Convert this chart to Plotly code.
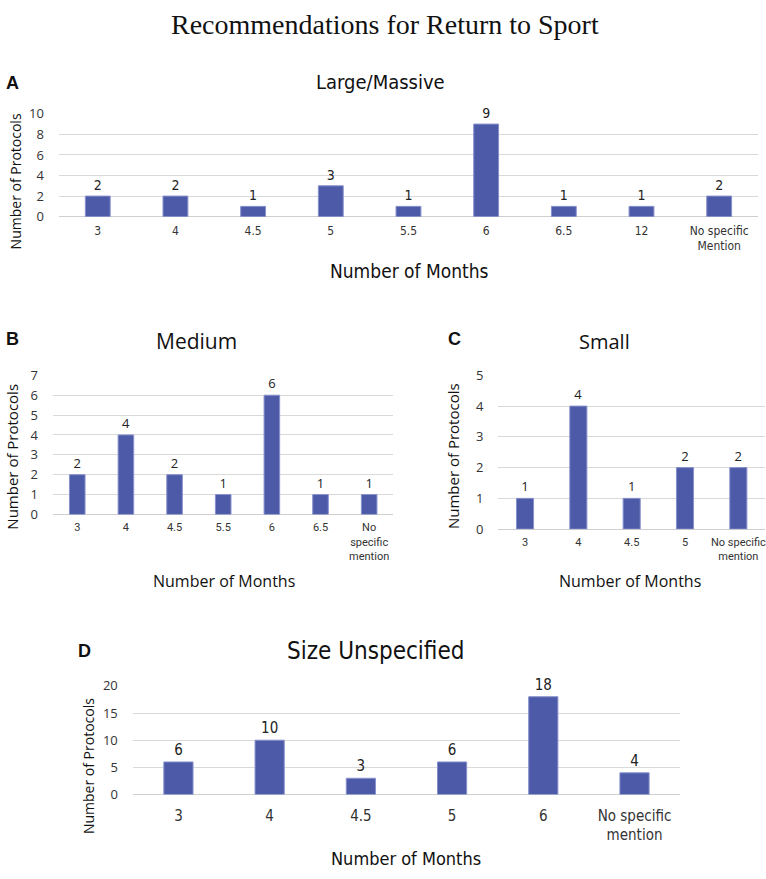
import plotly.graph_objects as go

# ---- data ----
cats_a = ["3", "4", "4.5", "5", "5.5", "6", "6.5", "12", "No specific<br>Mention"]
vals_a = [2, 2, 1, 3, 1, 9, 1, 1, 2]

cats_b = ["3", "4", "4.5", "5.5", "6", "6.5", "No<br>specific<br>mention"]
vals_b = [2, 4, 2, 1, 6, 1, 1]

cats_c = ["3", "4", "4.5", "5", "No specific<br>mention"]
vals_c = [1, 4, 1, 2, 2]

cats_d = ["3", "4", "4.5", "5", "6", "No specific<br>mention"]
vals_d = [6, 10, 3, 6, 18, 4]

W, H = 766, 879
BAR = "#4D5AA8"
GRID = "#D9D9D9"
NARROW = "Liberation Sans Narrow, Arial Narrow, DejaVu Sans Condensed, sans-serif"
SEG = "Open Sans, sans-serif"
ROB = "Roboto, sans-serif"
BOLD = "Liberation Sans, Arial, sans-serif"


def px(x):
    return x / W


def py(y):
    return 1 - y / H


fig = go.Figure()

panels = [
    # cats, vals, axis id, x px, y px, ymax, dtick, xtick font, size, ytick font, size, label font, size
    (cats_a, vals_a, "", (59, 759), (107, 212), 10, 2, NARROW, 12, SEG, 13, NARROW, 14),
    (cats_b, vals_b, "2", (53, 394), (374, 516), 7, 1, ROB, 11, SEG, 13, SEG, 13),
    (cats_c, vals_c, "3", (499, 766), (374, 531), 5, 1, ROB, 11, SEG, 13, SEG, 13),
    (cats_d, vals_d, "4", (133, 681), (691, 802), 20, 5, NARROW, 15, SEG, 13, NARROW, 15),
]

for cats, vals, ax, (x0, x1), (y0, y1), ymax, dt, xf, xs, yf, ys, lf, ls in panels:
    fig.add_trace(go.Bar(
        x=cats, y=vals, xaxis="x" + ax, yaxis="y" + ax,
        marker=dict(color=BAR, line=dict(color="#8791CC", width=1)),
        text=[str(v) for v in vals], textposition="outside",
        textfont=dict(family=lf, size=ls, color="#222222"),
        cliponaxis=False, showlegend=False, hoverinfo="x+y",
    ))
    fig.layout["xaxis" + ax] = dict(
        domain=[px(x0), px(x1)], anchor="y" + ax, type="category",
        showgrid=False, showline=False, ticks="",
        tickfont=dict(family=xf, size=xs, color="#333333"),
        ticklabelstandoff=5 if ax != "4" else 10,
    )
    fig.layout["yaxis" + ax] = dict(
        domain=[py(y1), py(y0)], anchor="x" + ax, range=[0, ymax], dtick=dt,
        showgrid=True, gridcolor=GRID, gridwidth=1,
        zeroline=True, zerolinecolor="#CFCFCF", zerolinewidth=1.2,
        showline=False, ticks="",
        tickfont=dict(family=yf, size=ys, color="#333333"),
        ticklabelstandoff=14,
    )

fig.update_layout(bargap=0.68)

ann = []


def text(x, y, s, size, family, bold=False, angle=0, color="#111111"):
    ann.append(dict(
        x=px(x), y=py(y), xref="paper", yref="paper", text=("<b>%s</b>" % s) if bold else s,
        showarrow=False, textangle=angle, xanchor="center", yanchor="middle",
        font=dict(size=size, family=family, color=color),
    ))


# main title
text(386, 16, "Recommendations for Return to Sport", 28, "Liberation Serif, Times New Roman, serif")

# panel A
text(13, 76, "A", 18, BOLD, bold=True)
text(381, 75, "Large/Massive", 20, NARROW)
text(15, 176, "Number of Protocols", 14, SEG, angle=-90)
text(410, 267, "Number of Months", 19, NARROW)

# panel B
text(13, 337, "B", 18, BOLD, bold=True)
text(197, 339, "Medium", 21, SEG)
text(12, 457, "Number of Protocols", 15, SEG, angle=-90)
text(224, 584, "Number of Months", 16, SEG)

# panel C
text(455, 337, "C", 18, BOLD, bold=True)
text(605, 339, "Small", 20, SEG)
text(453, 456, "Number of Protocols", 15, SEG, angle=-90)
text(631, 584, "Number of Months", 16, SEG)

# panel D
text(85, 655, "D", 18, BOLD, bold=True)
text(376, 655, "Size Unspecified", 24, NARROW)
text(88, 773, "Number of Protocols", 14, SEG, angle=-90)
text(407, 867, "Number of Months", 18, NARROW)

fig.update_layout(
    width=W, height=H, margin=dict(l=0, r=0, t=0, b=0),
    paper_bgcolor="white", plot_bgcolor="white",
    annotations=ann,
)

fig.write_html(
    "out.html",
    config={"displayModeBar": False},
    post_script="document.body.style.margin='0';document.body.style.overflow='hidden';",
)
